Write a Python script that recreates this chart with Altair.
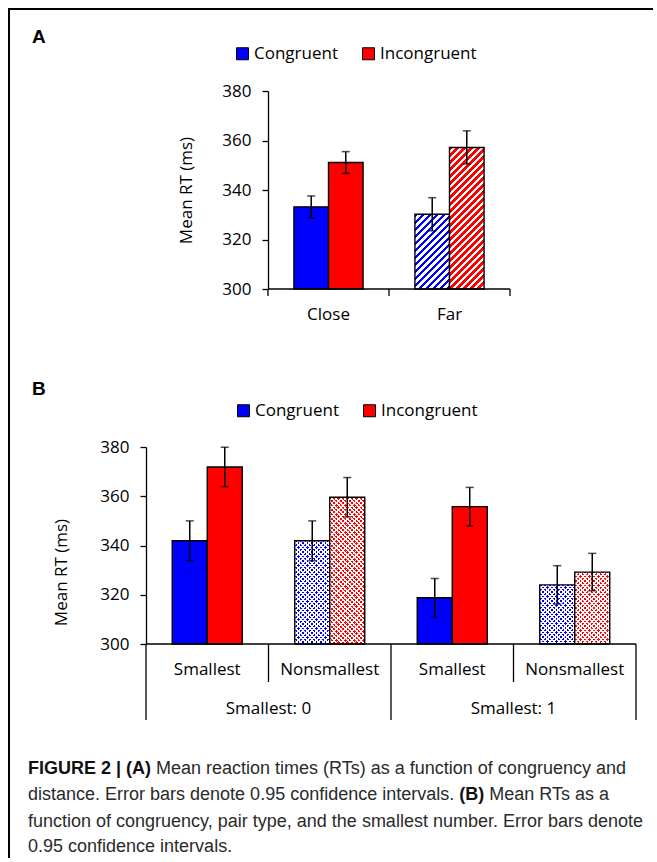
import altair as alt
import pandas as pd

# ---------------- data ----------------
conditions = ["Congruent", "Incongruent"]
condition_colors = ["#0000ff", "#ff0000"]
y_ticks = [300, 320, 340, 360, 380]
y_title = "Mean RT (ms)"

a_distance = ["Close", "Close", "Far", "Far"]
a_condition = ["Congruent", "Incongruent", "Congruent", "Incongruent"]
a_mean = [333.2, 351.1, 330.2, 357.2]
a_ci = [4.4, 4.4, 6.7, 6.7]
a_patterned = ["Far"]

b_group = ["Smallest: 0"] * 4 + ["Smallest: 1"] * 4
b_pair = ["Smallest", "Smallest", "Nonsmallest", "Nonsmallest"] * 2
b_condition = ["Congruent", "Incongruent"] * 4
b_mean = [341.9, 371.9, 341.9, 359.6, 318.8, 355.8, 324.0, 329.2]
b_ci = [8.1, 8.0, 8.1, 8.0, 7.8, 7.8, 7.8, 7.6]
b_patterned = ["Nonsmallest"]

panel_labels = ["A", "B"]
caption_lines = [
    ["FIGURE 2 | (A)", "Mean reaction times (RTs) as a function of congruency and"],
    ["distance. Error bars denote 0.95 confidence intervals.", "(B)", "Mean RTs as a"],
    ["function of congruency, pair type, and the smallest number. Error bars denote"],
    ["0.95 confidence intervals."],
]
caption_bold = [[True, False], [False, True, False], [False], [False]]

# ---------------- layout / style ----------------
FONT = "Open Sans"
FS = 17
CAP_FONT = "Liberation Sans"
CAP_FS = 18
caption_x = [[0, 7.114 * CAP_FS], [0, 23.956 * CAP_FS, 25.622 * CAP_FS], [0], [0]]
caption_baseline = [774, 800, 826.5, 852]

X0 = 146
PAGE_R = 653
BORDER_L, BORDER_T = 8, 8
BW = 2
SPLIT_AB, SPLIT_BC, BOTTOM = 345, 735, 858
A_LEFT, A_TOP, A_RIGHT, A_H = 268, 91, 510, 198
B_LEFT, B_TOP, B_RIGHT, B_H = 146, 447, 636, 197
CAP_LEFT = 28
OFFSET_PAD = 0.75
YMIN, YMAX = y_ticks[0], y_ticks[-1]

one = pd.DataFrame({"k": [0]})


def stripe_gradient(w, h, period, width, ink, paper, rising=True):
    L = w + h
    D = w * w + h * h
    gx, gy = w * L / D, h * L / D
    if rising:
        x1, y1, x2, y2 = 0, 0, gx, gy
    else:
        x1, y1, x2, y2 = 0, 1, gx, 1 - gy
    stops = []
    s = 0.0
    while s < L:
        a = s / L
        b = min((s + width) / L, 1.0)
        c = min((s + period) / L, 1.0)
        stops += [
            {"offset": round(a, 5), "color": ink},
            {"offset": round(b, 5), "color": ink},
            {"offset": round(b, 5), "color": paper},
            {"offset": round(c, 5), "color": paper},
        ]
        s += period
    return {"gradient": "linear", "x1": x1, "y1": y1, "x2": x2, "y2": y2, "stops": stops}


yscale = alt.Scale(domain=[YMIN, YMAX], nice=False, zero=False)
offset_scale = alt.Scale(domain=conditions, paddingInner=0, paddingOuter=OFFSET_PAD)
fill_scale = alt.Scale(domain=conditions, range=condition_colors)


def y_axis(axis_x, title_x, title_y):
    ax = dict(
        values=y_ticks, tickSize=6, tickWidth=1.3, tickColor="black",
        domainColor="black", domainWidth=1.3, grid=False,
        labelFont=FONT, labelFontSize=FS, labelColor="black", labelPadding=11,
        title=y_title, titleFont=FONT, titleFontSize=FS, titleFontWeight="normal",
        titleColor="black", titleX=title_x - axis_x, titleY=title_y, titleAngle=-90,
        titleBaseline="bottom",
    )
    if axis_x != X0:
        ax["offset"] = -(axis_x - X0)
    return alt.Axis(**ax)


def legend(lx, ly, top):
    return alt.Legend(
        orient="none", legendX=lx - X0, legendY=ly - top, direction="horizontal", title=None,
        symbolType="square", symbolSize=144, symbolStrokeColor="black",
        symbolStrokeWidth=1, symbolOpacity=1, labelFont=FONT, labelFontSize=FS,
        labelColor="black", labelOffset=3, columnPadding=22, padding=0,
    )


def box(top, x1, x2, y1, y2, color="black", opacity=1):
    return alt.Chart(one).mark_rect(color=color, opacity=opacity, clip=False).encode(
        x=alt.value(x1 - X0), x2=alt.value(x2 - X0),
        y=alt.value(y1 - top), y2=alt.value(y2 - top),
    )


def frame(top, y_start, y_end, with_top=False):
    layers = [box(top, BORDER_L, BORDER_L + BW, y_start, y_end)]
    if with_top:
        layers.append(box(top, BORDER_L, PAGE_R, BORDER_T, BORDER_T + BW))
        # invisible anchor at the page corner so the frame is not the outermost item
        layers.append(box(top, 0, 1, 0, 1, "white", 0))
    return layers


def panel_label(text, top, x, y):
    return alt.Chart(pd.DataFrame({"t": [text]})).mark_text(
        align="left", baseline="alphabetic", font=CAP_FONT, fontSize=19,
        fontWeight="bold", color="black",
    ).encode(text="t:N", x=alt.value(x - X0), y=alt.value(y - top))


def grouped_panel(df, cat_field, cat_order, left, right, height,
                  x_axis, yax, leg, pattern):
    n = len(cat_order)
    step = (right - left) / n
    bar_w = step / (2 + 2 * OFFSET_PAD)
    width = right - X0
    pad_outer = (width / step - n) / 2
    xscale = alt.Scale(domain=cat_order, paddingInner=0, paddingOuter=pad_outer, align=1)

    def X(**kw):
        return alt.X(f"{cat_field}:N", scale=xscale, axis=x_axis, **kw)

    XO = alt.XOffset("condition:N", scale=offset_scale)

    def Y(field):
        return alt.Y(f"{field}:Q", scale=yscale, axis=yax)

    base = alt.Chart(df)
    layers = [
        base.transform_filter("!datum.pattern").mark_bar(stroke="black", strokeWidth=1.4).encode(
            x=X(), xOffset=XO, y=Y("mean"), y2=alt.datum(YMIN),
            fill=alt.Fill("condition:N", scale=fill_scale, legend=leg),
        )
    ]
    for _, row in df[df["pattern"]].iterrows():
        h = (row["mean"] - YMIN) * height / (YMAX - YMIN)
        color = condition_colors[conditions.index(row["condition"])]
        sel = base.transform_filter(
            (alt.datum[cat_field] == row[cat_field]) & (alt.datum.condition == row["condition"])
        )
        if pattern == "hatch":
            g = stripe_gradient(bar_w, h, 7, 3.5, color, "white", rising=True)
            layers.append(sel.mark_bar(stroke="black", strokeWidth=1.4).encode(
                x=X(), xOffset=XO, y=Y("mean"), y2=alt.datum(YMIN), fill=alt.value(g)))
        else:
            g1 = stripe_gradient(bar_w, h, 4.5, 2.6, color, "white", rising=True)
            g2 = stripe_gradient(bar_w, h, 4.5, 2.6, "rgba(255,255,255,0)", "white", rising=False)
            layers.append(sel.mark_bar(strokeWidth=0).encode(
                x=X(), xOffset=XO, y=Y("mean"), y2=alt.datum(YMIN), fill=alt.value(g1)))
            layers.append(sel.mark_bar(stroke="black", strokeWidth=1.4).encode(
                x=X(), xOffset=XO, y=Y("mean"), y2=alt.datum(YMIN), fill=alt.value(g2)))
    layers.append(base.mark_rule(color="black", strokeWidth=1.5).encode(
        x=X(), xOffset=XO, y=Y("lo"), y2="hi:Q"))
    layers.append(base.mark_tick(color="black", thickness=1.5, size=8).encode(
        x=X(), xOffset=XO, y=Y("lo")))
    layers.append(base.mark_tick(color="black", thickness=1.5, size=8).encode(
        x=X(), xOffset=XO, y=Y("hi")))
    first = df.drop_duplicates(cat_field).head(1)
    layers.append(alt.Chart(first).mark_rule(color="black", strokeWidth=1.3).encode(
        x=X(bandPosition=0), x2=alt.value(width), y=alt.value(height)))
    return layers, X


def cat_axis(label_expr=None):
    kw = dict(title=None, ticks=False, domain=False, labelAngle=0, labelFont=FONT,
              labelFontSize=FS, labelColor="black", labelPadding=17)
    if label_expr:
        kw["labelExpr"] = label_expr
    return alt.Axis(**kw)


# ---------------- panel A ----------------
dfA = pd.DataFrame({"distance": a_distance, "condition": a_condition, "mean": a_mean, "ci": a_ci})
dfA["lo"] = dfA["mean"] - dfA["ci"]
dfA["hi"] = dfA["mean"] + dfA["ci"]
dfA["pattern"] = dfA["distance"].isin(a_patterned)
a_order = list(dict.fromkeys(a_distance))

layersA, XA = grouped_panel(dfA, "distance", a_order, A_LEFT, A_RIGHT, A_H,
                            cat_axis(), y_axis(A_LEFT, 195, A_H / 2), legend(234, 45, A_TOP), "hatch")
firstA = dfA[dfA["condition"] == conditions[0]]
layersA.append(alt.Chart(firstA).mark_rule(color="black", strokeWidth=1.3).encode(
    x=XA(bandPosition=0), y=alt.value(A_H), y2=alt.value(A_H + 7)))
layersA.append(alt.Chart(firstA.tail(1)).mark_rule(color="black", strokeWidth=1.3).encode(
    x=XA(bandPosition=1), y=alt.value(A_H), y2=alt.value(A_H + 7)))
layersA += frame(A_TOP, BORDER_T, SPLIT_AB, with_top=True)
layersA.append(panel_label(panel_labels[0], A_TOP, 32, 43))
panelA = alt.layer(*layersA).properties(width=A_RIGHT - X0, height=A_H)

# ---------------- panel B ----------------
dfB = pd.DataFrame({"group": b_group, "pair": b_pair, "condition": b_condition, "mean": b_mean, "ci": b_ci})
dfB["key"] = dfB["group"] + "|" + dfB["pair"]
dfB["lo"] = dfB["mean"] - dfB["ci"]
dfB["hi"] = dfB["mean"] + dfB["ci"]
dfB["pattern"] = dfB["pair"].isin(b_patterned)
b_order = list(dict.fromkeys(dfB["key"]))

layersB, XB = grouped_panel(dfB, "key", b_order, B_LEFT, B_RIGHT, B_H,
                            cat_axis("split(datum.label, '|')[1]"), y_axis(B_LEFT, 70, 572 - B_TOP),
                            legend(235, 402, B_TOP), "dots")
firstB = dfB[dfB["condition"] == conditions[0]]
group_start = firstB.drop_duplicates("group", keep="first")
group_rest = firstB[~firstB.index.isin(group_start.index)]
LONG, SHORT = 76, 38
layersB.append(alt.Chart(group_start).mark_rule(color="black", strokeWidth=1.3).encode(
    x=XB(bandPosition=0), y=alt.value(B_H), y2=alt.value(B_H + LONG)))
layersB.append(alt.Chart(firstB.tail(1)).mark_rule(color="black", strokeWidth=1.3).encode(
    x=XB(bandPosition=1), y=alt.value(B_H), y2=alt.value(B_H + LONG)))
layersB.append(alt.Chart(group_rest).mark_rule(color="black", strokeWidth=1.3).encode(
    x=XB(bandPosition=0), y=alt.value(B_H), y2=alt.value(B_H + SHORT)))
layersB.append(alt.Chart(group_start).mark_text(
    font=FONT, fontSize=FS, color="black", align="center", baseline="alphabetic").encode(
    x=XB(bandPosition=1), y=alt.value(714 - B_TOP), text="group:N"))
layersB += frame(B_TOP, SPLIT_AB, SPLIT_BC)
layersB.append(panel_label(panel_labels[1], B_TOP, 32, 395))
panelB = alt.layer(*layersB).properties(width=B_RIGHT - X0, height=B_H)

# ---------------- caption ----------------
cap_layers = frame(SPLIT_BC, SPLIT_BC, BOTTOM)
for li, segs in enumerate(caption_lines):
    for si, seg in enumerate(segs):
        bold = caption_bold[li][si]
        cap_layers.append(alt.Chart(pd.DataFrame({"t": [seg]})).mark_text(
            align="left", baseline="alphabetic", font=CAP_FONT, fontSize=CAP_FS,
            fontWeight="bold" if bold else "normal", color="#111" if bold else "#2a2a2a",
        ).encode(text="t:N", x=alt.value(CAP_LEFT - X0 + caption_x[li][si]),
                 y=alt.value(caption_baseline[li] - SPLIT_BC)))
panelC = alt.layer(*cap_layers).properties(width=400, height=BOTTOM - SPLIT_BC - 4)

chart = alt.vconcat(panelA, panelB, panelC, spacing=0).resolve_scale(
    x="independent", y="independent", xOffset="independent", fill="independent"
).resolve_legend(fill="independent").configure_view(stroke=None).properties(
    padding={"left": 0, "top": 0, "right": 0, "bottom": 0}
)

chart.save("out.html", embed_options={"renderer": "svg", "actions": False})
